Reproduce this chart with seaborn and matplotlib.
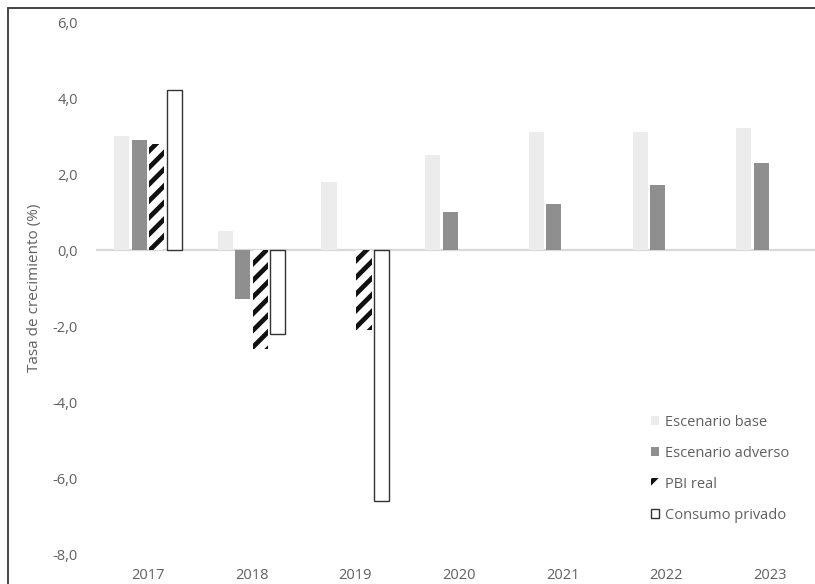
import numpy as np
import pandas as pd
import matplotlib
matplotlib.use("Agg")
import matplotlib.pyplot as plt
from matplotlib.lines import Line2D
import seaborn as sns

# Growth rates by year (%)
years = ["2017", "2018", "2019", "2020", "2021", "2022", "2023"]
base = [3.0, 0.5, 1.8, 2.5, 3.1, 3.1, 3.2]
adverso = [2.9, -1.3, 0.0, 1.0, 1.2, 1.7, 2.3]
pbi_real = [2.8, -2.6, -2.1, np.nan, np.nan, np.nan, np.nan]
consumo = [4.2, -2.2, -6.6, np.nan, np.nan, np.nan, np.nan]

series_names = ["Escenario base", "Escenario adverso", "PBI real", "Consumo privado"]
y_ticks = [6.0, 4.0, 2.0, 0.0, -2.0, -4.0, -6.0, -8.0]

df = pd.DataFrame({
    "Año": years * 4,
    "Serie": np.repeat(series_names, len(years)),
    "Valor": base + adverso + pbi_real + consumo,
})

sns.set_theme(style="white")
plt.rcParams["font.family"] = ["Open Sans", "DejaVu Sans"]
plt.rcParams["hatch.linewidth"] = 3.4

TEXT = "#606060"
W, H = 815, 584
fig = plt.figure(figsize=(W / 100, H / 100), dpi=100)
ax_left, ax_right = 96, 815
ax_top, ax_bottom = 22, 554
ax = fig.add_axes([ax_left / W, 1 - ax_bottom / H,
                   (ax_right - ax_left) / W, (ax_bottom - ax_top) / H])

palette = {
    "Escenario base": "#ececec",
    "Escenario adverso": "#8f8f8f",
    "PBI real": "#ffffff",
    "Consumo privado": "#ffffff",
}
sns.barplot(data=df, x="Año", y="Valor", hue="Serie", hue_order=series_names,
            palette=palette, width=0.675, gap=0.14, saturation=1,
            legend=False, ax=ax, zorder=3)

# Patterned styling for the two historical series
for name, cont in zip(series_names, ax.containers):
    for p in cont.patches:
        if name == "PBI real":
            p.set_hatch("//")
            p.set_edgecolor("#111111")
            p.set_linewidth(0)
        elif name == "Consumo privado":
            p.set_edgecolor("#333333")
            p.set_linewidth(1.0)
        else:
            p.set_edgecolor(p.get_facecolor())
            p.set_linewidth(0)

ax.axhline(0, color="#d9d9d9", lw=1.6, zorder=2)

ax.set_ylim(-8, 6)
ax.set_xlim(-0.5, (ax_right - ax_left) / 103.7 - 0.5)
ax.set_yticks(y_ticks)
ax.set_yticklabels([f"{v:.1f}".replace(".", ",") for v in y_ticks])
ax.tick_params(axis="y", length=0, pad=13, labelsize=10.5, labelcolor=TEXT)
ax.tick_params(axis="x", length=0, pad=10, labelsize=10.5, labelcolor=TEXT)
ax.set_xlabel("")
ax.set_ylabel("Tasa de crecimiento (%)", fontsize=11, color=TEXT, labelpad=8)
for s in ax.spines.values():
    s.set_visible(False)
ax.grid(False)

leg = ax.legend(ax.containers, series_names, loc="upper left",
                bbox_to_anchor=(645 / W, 1 - 409 / H), bbox_transform=fig.transFigure,
                frameon=False, fontsize=10.5, handlelength=0.55, handleheight=0.55,
                handletextpad=0.4, labelspacing=1.1, borderaxespad=0)
for t in leg.get_texts():
    t.set_color(TEXT)

# Chart area frame
fig.add_artist(Line2D([8 / W, 8 / W], [1 - 8 / H, 0], transform=fig.transFigure,
                      color="#444444", lw=1.4))
fig.add_artist(Line2D([8 / W, 1], [1 - 8 / H, 1 - 8 / H], transform=fig.transFigure,
                      color="#444444", lw=1.4))

fig.savefig("out.png", dpi=100, facecolor="white")
